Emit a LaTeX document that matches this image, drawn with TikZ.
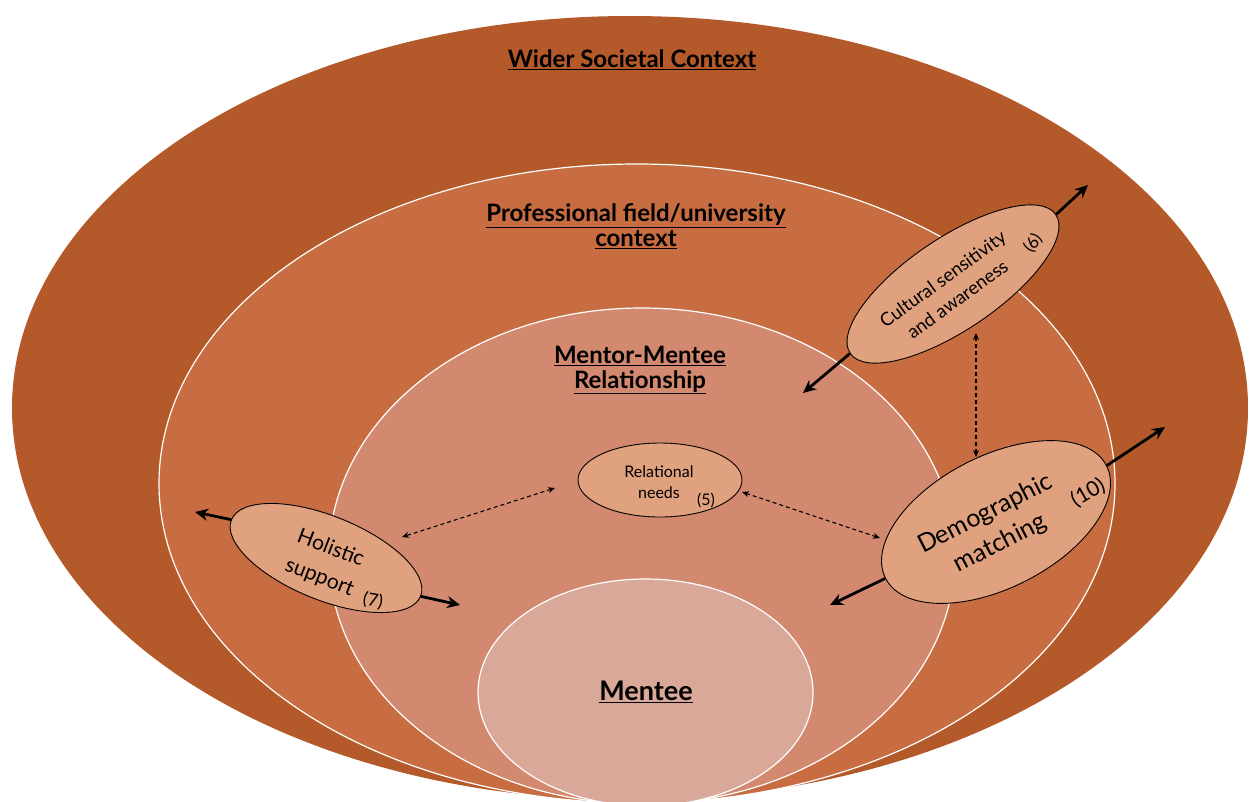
\documentclass[tikz,border=0pt]{standalone}
\usepackage{fontspec}
\setmainfont{Lato}
\usetikzlibrary{shapes.geometric,arrows.meta}
\definecolor{cOuter}{RGB}{180,90,42}
\definecolor{cProf}{RGB}{200,109,65}
\definecolor{cMent}{RGB}{211,137,112}
\definecolor{cCore}{RGB}{217,168,152}
\definecolor{cSmall}{RGB}{224,161,127}
\tikzset{
  ring/.style={draw=white, line width=1.2pt},
  smallell/.style={ellipse, draw=black, line width=0.9pt, fill=cSmall, inner sep=0pt},
  title/.style={font=\bfseries\fontsize{24}{25}\selectfont, align=center, text=black},
  bigarrow/.style={line width=2.8pt, -{Stealth[length=13pt,width=12pt]}},
  dasharrow/.style={line width=1.1pt, dash pattern=on 4pt off 3pt, {Stealth[length=7pt,width=6pt]}-{Stealth[length=7pt,width=6pt]}},
}
\begin{document}
\begin{tikzpicture}[x=1pt,y=-1pt]
\useasboundingbox (0,0) rectangle (1250,801);
\clip (0,0) rectangle (1250,801);
\fill[white] (0,0) rectangle (1250,801);
% nested ellipses
\fill[cOuter] (630,408) ellipse [x radius=618, y radius=392];
\filldraw[fill=cProf, ring] (637,483.5) ellipse [x radius=478, y radius=319.5];
\filldraw[fill=cMent, ring] (642,556) ellipse [x radius=313, y radius=248];
\filldraw[fill=cCore, ring] (645.5,692.5) ellipse [x radius=167.5, y radius=113.5];
% titles
\node[title] (wsc) at (632,60) {\underline{Wider Societal Context}};
\node[title] (pfc) at (636,226) {\underline{Professional field/university}\\\underline{context}};
\node[title] (mmr) at (640,370) {\underline{Mentor-Mentee}\\\underline{Relationship}};
\node[title, font=\bfseries\fontsize{27}{28}\selectfont] (mentee) at (646,692) {\underline{Mentee}};
% small ellipses
\node[smallell, minimum width=248pt, minimum height=92pt, rotate=34] (cult) at (953,284) {};
\node[smallell, minimum width=248pt, minimum height=132pt, rotate=27] (demo) at (996,522) {};
\node[smallell, minimum width=204pt, minimum height=84pt, rotate=-22] (hol) at (326,558) {};
\node[smallell, minimum width=164pt, minimum height=74pt] (rel) at (660,480) {};
% outward arrows
\coordinate (cultA) at (1088,185);
\coordinate (cultB) at (803,393);
\coordinate (demoA) at (1165,427);
\coordinate (demoB) at (830,605);
\coordinate (holA) at (195,512);
\coordinate (holB) at (460,605);
\draw[bigarrow] (cult.east) -- (cultA);
\draw[bigarrow] (cult.west) -- (cultB);
\draw[bigarrow] (demo.east) -- (demoA);
\draw[bigarrow] (demo.west) -- (demoB);
\draw[bigarrow] (hol.west) -- (holA);
\draw[bigarrow] (hol.east) -- (holB);
% texts in small ellipses
\node[font=\fontsize{18.5}{25}\selectfont, align=center, rotate=36, inner sep=1pt] (cultT) at (950,289) {Cultural sensitivity\\and awareness};
\node[font=\fontsize{17}{17}\selectfont, rotate=55, inner sep=1pt] (cultN) at (1033,243) {(6)};
\node[font=\fontsize{25}{33}\selectfont, align=center, rotate=27, inner sep=1pt] (demoT) at (993,529) {Demographic\\matching};
\node[font=\fontsize{21}{21}\selectfont, rotate=30, inner sep=1pt] (demoN) at (1088,493) {(10)};
\node[font=\fontsize{21}{31}\selectfont, align=center, rotate=-21, inner sep=1pt] (holT) at (325,563) {Holistic\\support};
\node[font=\fontsize{18}{18}\selectfont, rotate=-10, inner sep=1pt] (holN) at (373,601) {(7)};
\node[font=\fontsize{16}{21}\selectfont, align=center, inner sep=1pt] (relT) at (659,482) {Relational\\needs};
\node[font=\fontsize{16}{16}\selectfont, inner sep=1pt] (relN) at (706,500) {(5)};
% dashed links
\coordinate (relL) at (555,488);
\coordinate (holR) at (402,537);
\coordinate (relR) at (742,492);
\coordinate (demoL) at (880,538);
\coordinate (cultD) at (976,333);
\coordinate (demoU) at (976,457);
\draw[dasharrow] (relL) -- (holR);
\draw[dasharrow] (relR) -- (demoL);
\draw[dasharrow] (cultD) -- (demoU);
\end{tikzpicture}
\end{document}
